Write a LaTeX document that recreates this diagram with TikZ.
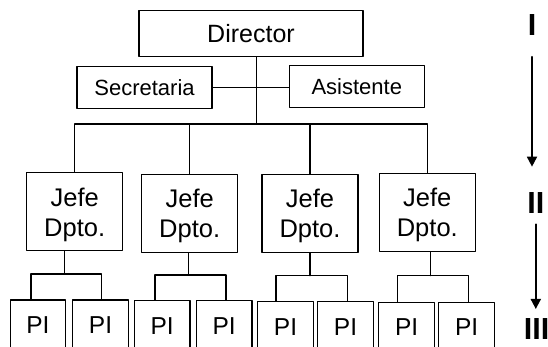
\documentclass[tikz,border=0pt]{standalone}
\usepackage{fontspec}
\setmainfont{Liberation Sans}
\usetikzlibrary{arrows.meta}
\begin{document}
\begin{tikzpicture}[x=1pt,y=-1pt,line cap=round,line join=round,line width=1.1pt,
  orgbox/.style={draw,rectangle,inner sep=0pt},
  dirbox/.style={orgbox,minimum width=224pt,minimum height=46pt,font=\fontsize{25}{30}\selectfont},
  staffbox/.style={orgbox,minimum width=135pt,minimum height=42pt,font=\fontsize{22}{26}\selectfont},
  jefebox/.style={orgbox,minimum width=96pt,minimum height=78pt,align=center,text depth=0pt,font=\fontsize{25.5}{30}\selectfont},
  pibox/.style={orgbox,minimum width=55.6pt,minimum height=50pt,font=\fontsize{24.5}{29}\selectfont},
  level/.style={inner sep=0pt,font=\fontsize{30.5}{36}\bfseries\selectfont},
  lvarrow/.style={-{Triangle[length=10pt,width=10pt]},line width=1.8pt}]
  \path[use as bounding box,clip] (0,0) rectangle (548,346);
  % top: director and staff
  \node[dirbox] (dir) at (251,33.7) {Director};
  \node[staffbox] (sec) at (144.5,87.8) {Secretaria};
  \node[staffbox] (asi) at (356.8,86.7) {Asistente};
  \coordinate (bus) at (256.3,124);
  \draw (dir.south -| bus) -- (bus);
  \draw (sec.east) -- (sec.east -| asi.west);
  % department heads
  \node[jefebox] (j1) at (74.7,211.9) {Jefe\\Dpto.};
  \node[jefebox] (j2) at (189.7,213.5) {Jefe\\Dpto.};
  \node[jefebox] (j3) at (310,213.5) {Jefe\\Dpto.};
  \node[jefebox] (j4) at (427.3,212.5) {Jefe\\Dpto.};
  \draw (j1.north |- bus) -- (j4.north |- bus);
  \draw (j1.north) -- (j1.north |- bus);
  \draw (j2.north) -- (j2.north |- bus);
  \draw (j3.north) -- (j3.north |- bus);
  \draw (j4.north) -- (j4.north |- bus);
  % PI boxes, two under each head
  \node[pibox] (p1) at (37.85,325) {PI};
  \node[pibox] (p2) at (100.5,325) {PI};
  \node[pibox] (p3) at (162.15,325.7) {PI};
  \node[pibox] (p4) at (224.2,325.7) {PI};
  \node[pibox] (p5) at (285.5,326.7) {PI};
  \node[pibox] (p6) at (345.5,326.7) {PI};
  \node[pibox] (p7) at (406.65,327.3) {PI};
  \node[pibox] (p8) at (466.65,327.3) {PI};
  \coordinate (m1) at (64.3,274);    \coordinate (f1a) at (31,274);    \coordinate (f1b) at (101.7,274);
  \coordinate (m2) at (188.3,275);   \coordinate (f2a) at (155,275);   \coordinate (f2b) at (226,275);
  \coordinate (m3) at (310,275.7);   \coordinate (f3a) at (276,275.7); \coordinate (f3b) at (347.3,275.7);
  \coordinate (m4) at (430.7,275.7); \coordinate (f4a) at (397.7,275.7); \coordinate (f4b) at (468.3,275.7);
  \draw (j1.south -| m1) -- (m1);
  \draw (f1a |- p1.north) -- (f1a) -- (f1b) -- (f1b |- p2.north);
  \draw (j2.south -| m2) -- (m2);
  \draw (f2a |- p3.north) -- (f2a) -- (f2b) -- (f2b |- p4.north);
  \draw (j3.south -| m3) -- (m3);
  \draw (f3a |- p5.north) -- (f3a) -- (f3b) -- (f3b |- p6.north);
  \draw (j4.south -| m4) -- (m4);
  \draw (f4a |- p7.north) -- (f4a) -- (f4b) -- (f4b |- p8.north);
  % levels
  \node[level] (lvI) at (532,24.9) {I};
  \node[level] (lvII) at (535.8,203) {II};
  \node[level] (lvIII) at (536.5,329.3) {III};
  \draw[lvarrow,shorten <=20.9pt,shorten >=25.3pt] (lvI.south) -- (lvI.south |- lvII.north);
  \draw[lvarrow,shorten <=10.3pt,shorten >=9.3pt] (lvII.south) -- (lvII.south |- lvIII.north);
\end{tikzpicture}
\end{document}
